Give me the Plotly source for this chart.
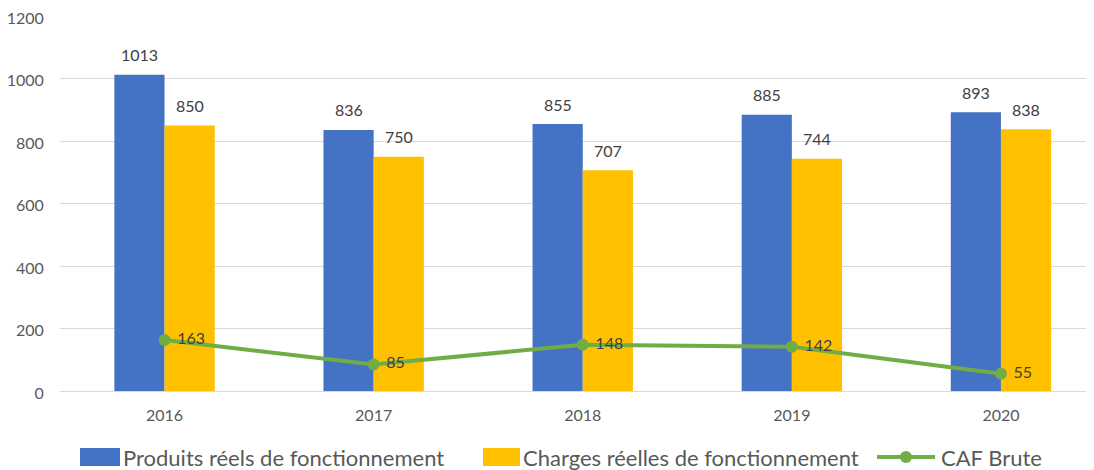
import plotly.graph_objects as go

years = ["2016", "2017", "2018", "2019", "2020"]
produits = [1013, 836, 855, 885, 893]
charges = [850, 750, 707, 744, 838]
caf = [163, 85, 148, 142, 55]
series_names = ["Produits réels de fonctionnement", "Charges réelles de fonctionnement", "CAF Brute"]
colors = ["#4472C4", "#FFC000", "#70AD47"]

FONT = "Lato, Open Sans, sans-serif"
TXT = "#404040"
GREY = "#595959"

fig = go.Figure()
fig.add_trace(go.Bar(
    x=years, y=produits, name=series_names[0],
    marker=dict(color=colors[0], line=dict(width=0)),
))
fig.add_trace(go.Bar(
    x=years, y=charges, name=series_names[1],
    marker=dict(color=colors[1], line=dict(width=0)),
))
fig.add_trace(go.Scatter(
    x=years, y=caf, name=series_names[2], mode="lines+markers+text",
    line=dict(color=colors[2], width=4),
    marker=dict(color=colors[2], size=12),
    text=[" " + str(v) for v in caf], textposition="middle right",
    textfont=dict(size=16, color=TXT, family=FONT),
))

# page has an 8px body margin: figure is sized/positioned to compensate
OFF = 8
W, H = 1094 - OFF, 470 - OFF
PL, PR, PT, PB = 60, 1094, 16, 391  # plot area in viewport pixels


def px(x):
    return (x - PL) / (PR - PL)


def py(y):
    return (PB - y) / (PB - PT)


annotations = []
# bar value labels, placed via data coordinates (category index on x)
for vals, shift in ((produits, -25), (charges, 25)):
    for i, v in enumerate(vals):
        annotations.append(dict(x=i, y=v, xref="x", yref="y", text=str(v), showarrow=False,
                                xshift=shift, yshift=20, yanchor="middle", xanchor="center",
                                font=dict(size=16, color=TXT, family=FONT)))

shapes = []
ly = 457
LF = dict(size=22, color=GREY, family=FONT)
shapes.append(dict(type="rect", xref="paper", yref="paper", x0=px(80), x1=px(120),
                   y0=py(ly + 9), y1=py(ly - 9), fillcolor=colors[0], line=dict(width=0)))
annotations.append(dict(xref="paper", yref="paper", x=px(121), y=py(ly), xanchor="left",
                        yanchor="middle", text=series_names[0], showarrow=False, font=LF))
shapes.append(dict(type="rect", xref="paper", yref="paper", x0=px(483), x1=px(520),
                   y0=py(ly + 9), y1=py(ly - 9), fillcolor=colors[1], line=dict(width=0)))
annotations.append(dict(xref="paper", yref="paper", x=px(521), y=py(ly), xanchor="left",
                        yanchor="middle", text=series_names[1], showarrow=False, font=LF))
shapes.append(dict(type="line", xref="paper", yref="paper", x0=px(877), x1=px(935),
                   y0=py(ly), y1=py(ly), line=dict(color=colors[2], width=4)))
shapes.append(dict(type="circle", xref="paper", yref="paper", x0=px(900), x1=px(912),
                   y0=py(ly + 6), y1=py(ly - 6), fillcolor=colors[2], line=dict(width=0)))
annotations.append(dict(xref="paper", yref="paper", x=px(939), y=py(ly), xanchor="left",
                        yanchor="middle", text=series_names[2], showarrow=False, font=LF))

fig.update_layout(
    width=W, height=H,
    margin=dict(l=PL - OFF, r=W - (PR - OFF), t=PT - OFF, b=H - (PB - OFF), autoexpand=False),
    paper_bgcolor="white", plot_bgcolor="white",
    barmode="group", bargap=0.52, bargroupgap=0,
    font=dict(family=FONT, color=GREY, size=16),
    showlegend=False,
    shapes=shapes, annotations=annotations,
    xaxis=dict(range=[-0.5, 4.445], showgrid=False, showline=False, automargin=False,
               ticks="outside", ticklen=10, tickcolor="rgba(0,0,0,0)",
               tickfont=dict(size=16, color=GREY, family=FONT)),
    yaxis=dict(range=[0, 1201], tickvals=[0, 200, 400, 600, 800, 1000, 1200],
               showgrid=True, gridcolor="#D9D9D9",
               gridwidth=1, zeroline=True, zerolinecolor="#D9D9D9", zerolinewidth=1,
               showline=False, automargin=False, ticks="outside", ticklen=12,
               tickcolor="rgba(0,0,0,0)", ticklabeloverflow="allow", ticklabelshift=2,
               tickfont=dict(size=16, color=GREY, family=FONT)),
)

fig.write_html("out.html")
